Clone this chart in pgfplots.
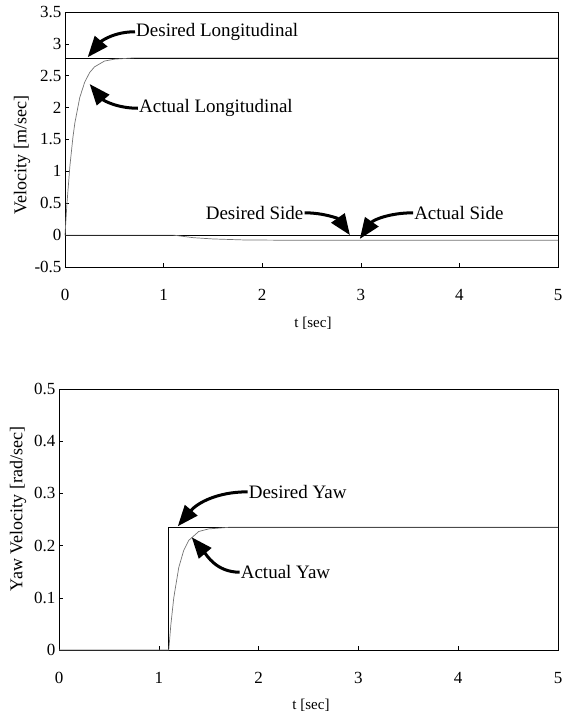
\documentclass[border=0pt]{standalone}
\usepackage{pgfplots}
\pgfplotsset{compat=1.18}
\usepackage{fontspec}
\setmainfont{Liberation Serif}
\usetikzlibrary{arrows.meta}

% data
\pgfplotstableread{
t     v
0     0
0.02  0.50
0.05  1.09
0.08  1.53
0.10  1.76
0.15  2.16
0.20  2.40
0.25  2.55
0.30  2.64
0.40  2.73
0.50  2.76
0.70  2.78
5.00  2.78
}\actlong
\pgfplotstableread{
t     v
0     0
1.10  0
1.20  -0.02
1.30  -0.04
1.50  -0.06
1.80  -0.075
2.20  -0.08
5.00  -0.08
}\actside
\pgfplotstableread{
t     v
0     0
1.10  0
1.12  0.047
1.15  0.100
1.20  0.158
1.25  0.191
1.30  0.210
1.40  0.227
1.50  0.232
1.70  0.235
5.00  0.235
}\actyaw

\tikzset{callout/.style={line width=3pt,-{Triangle[length=21pt,width=16pt]}}}
\newcommand{\annfont}{\fontsize{19}{22}\selectfont}

\pgfplotsset{
  chart/.style={
    scale only axis,
    anchor=south west,
    xmin=0, xmax=5,
    xtick={0,1,2,3,4,5},
    tick align=inside,
    xtick pos=bottom,
    ytick pos=left,
    major tick length=4pt,
    axis line style={line width=0.6pt},
    tick style={line width=0.6pt,black},
    /pgf/number format/assume math mode=true,
    /pgf/number format/fixed,
    ticklabel style={font=\fontsize{17}{20}\selectfont},
    xticklabel style={anchor=center,yshift=-28pt},
    clip=false,
  }
}

\begin{document}
\begin{tikzpicture}
\useasboundingbox (0,0) rectangle (572pt,725pt);

\begin{axis}[chart,
  at={(65pt,458pt)}, width=493pt, height=255pt,
  ymin=-0.5, ymax=3.5,
  ytick={-0.5,0,0.5,1,1.5,2,2.5,3,3.5},
  xlabel={t [sec]},
  every axis x label/.style={at={(axis description cs:0.503,0)},anchor=center,yshift=-56pt,font=\fontsize{15}{18}\selectfont},
  ylabel={Velocity [m/sec]},
  every axis y label/.style={at={(axis description cs:-0.087,0.44)},rotate=90,anchor=center,font=\fontsize{18}{21}\selectfont},
]
\addplot[black, line width=0.6pt] coordinates {(0,2.78) (5,2.78)};
\addplot[black!55, line width=0.7pt] table[x=t,y=v] {\actlong};
\addplot[black, line width=0.6pt] coordinates {(0,0) (5,0)};
\addplot[black!55, line width=0.7pt] table[x=t,y=v] {\actside};

\node[anchor=west,font=\annfont,inner sep=1pt] (dl) at (axis cs:0.71,3.19) {Desired Longitudinal};
\draw[callout] (dl.west) to[out=180,in=50] (axis cs:0.23,2.79);
\node[anchor=west,font=\annfont,inner sep=1pt] (al) at (axis cs:0.74,1.99) {Actual Longitudinal};
\draw[callout] (al.west) to[out=180,in=-50] (axis cs:0.25,2.37);
\node[anchor=east,font=\annfont,inner sep=1pt] (ds) at (axis cs:2.43,0.35) {Desired Side};
\draw[callout] (ds.east) to[out=0,in=125] (axis cs:2.89,0.0);
\node[anchor=west,font=\annfont,inner sep=1pt] (as) at (axis cs:3.53,0.35) {Actual Side};
\draw[callout] (as.west) to[out=180,in=55] (axis cs:2.99,-0.06);
\end{axis}

\begin{axis}[chart,
  at={(59pt,75pt)}, width=499pt, height=261pt,
  ymin=0, ymax=0.5,
  ytick={0,0.1,0.2,0.3,0.4,0.5},
  xlabel={t [sec]},
  every axis x label/.style={at={(axis description cs:0.505,0)},anchor=center,yshift=-55pt,font=\fontsize{15}{18}\selectfont},
  ylabel={Yaw Velocity [rad/sec]},
  every axis y label/.style={at={(axis description cs:-0.082,0.54)},rotate=90,anchor=center,font=\fontsize{18}{21}\selectfont},
]
\addplot[black, line width=0.6pt] coordinates {(0,0) (1.1,0) (1.1,0.235) (5,0.235)};
\addplot[black!55, line width=0.7pt] table[x=t,y=v] {\actyaw};

\node[anchor=west,font=\annfont,inner sep=1pt] (dy) at (axis cs:1.89,0.303) {Desired Yaw};
\draw[callout] (dy.west) to[out=180,in=50] (axis cs:1.19,0.237);
\node[anchor=west,font=\annfont,inner sep=1pt] (ay) at (axis cs:1.81,0.149) {Actual Yaw};
\draw[callout] (ay.west) to[out=180,in=-50] (axis cs:1.33,0.216);
\end{axis}
\end{tikzpicture}
\end{document}
